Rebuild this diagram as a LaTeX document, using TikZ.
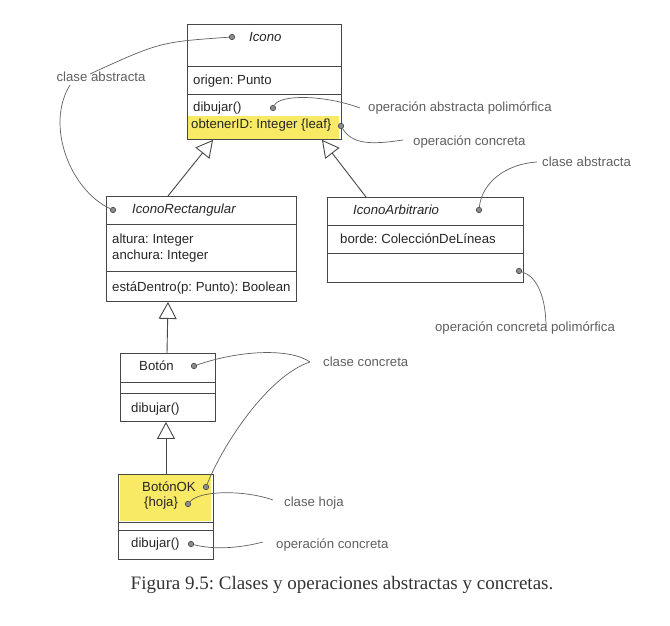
\documentclass[tikz,border=0pt]{standalone}
\usepackage{fontspec}
\setmainfont{Liberation Serif}
\setsansfont{Liberation Sans}
\usetikzlibrary{arrows.meta}
\definecolor{amarillo}{RGB}{248,234,100}
\definecolor{lineagris}{RGB}{70,70,70}
\definecolor{notagris}{RGB}{95,95,95}
\frenchspacing

\begin{document}
\begin{tikzpicture}[x=1pt,y=-1pt,
  texto/.style={anchor=west,inner sep=0pt,font=\sffamily\fontsize{13.2}{15}\selectfont,text=black!85},
  nombre/.style={texto,font=\sffamily\itshape\fontsize{13.2}{15}\selectfont},
  etiqueta/.style={texto,text=notagris},
  punto/.style={circle,draw=lineagris,fill=black!45,line width=0.6pt,inner sep=0pt,minimum size=5.5pt},
  caja/.style={draw=lineagris,line width=0.9pt,anchor=north west,inner sep=0pt},
  sep/.style={draw=lineagris,line width=0.9pt},
  nota/.style={draw=notagris,line width=0.7pt},
  hereda/.style={draw=lineagris,line width=0.9pt,-{Triangle[open,length=17pt,width=18pt]}}]
\useasboundingbox (0,0) rectangle (670,626);

\fill[amarillo] (187,116) rectangle (339,139);
\fill[amarillo] (120,474) rectangle (211,521);

\node [caja,minimum width=154pt,minimum height=115pt] (icono) at (187,24) {};
\draw [sep] (187,66) -- (341,66);
\draw [sep] (187,94) -- (341,94);
\node [nombre] (iconoNom) at (249,37) {Icono};
\node [texto] (origen) at (193,81) {origen: Punto};
\node [texto] (dibujar1) at (193,108) {dibujar()};
\node [texto] (obtener) at (191,125) {obtenerID: Integer \{leaf\}};

\node [caja,minimum width=190pt,minimum height=105pt] (icRect) at (106,196) {};
\draw [sep] (106,224) -- (296,224);
\draw [sep] (106,271) -- (296,271);
\node [nombre] (icRectNom) at (132,210) {IconoRectangular};
\node [texto] (altura) at (112,240) {altura: Integer};
\node [texto] (anchura) at (112,256) {anchura: Integer};
\node [texto] (dentro) at (112,288) {estáDentro(p: Punto): Boolean};

\node [caja,minimum width=196pt,minimum height=85pt] (icArb) at (327,197) {};
\draw [sep] (327,225) -- (523,225);
\draw [sep] (327,253) -- (523,253);
\node [nombre] (icArbNom) at (353,210) {IconoArbitrario};
\node [texto] (borde) at (340,239) {borde: ColecciónDeLíneas};

\node [caja,minimum width=95pt,minimum height=68pt] (boton) at (120,353) {};
\draw [sep] (120,382) -- (215,382);
\draw [sep] (120,393) -- (215,393);
\node [texto] (botonNom) at (139,366) {Botón};
\node [texto] (dibujar2) at (131,409) {dibujar()};

\node [caja,minimum width=95pt,minimum height=85pt] (botonOK) at (118,474) {};
\draw [sep] (118,522) -- (213,522);
\draw [sep] (118,530) -- (213,530);
\node [texto] (botonOKNom) at (142,487) {BotónOK};
\node [texto] (hoja) at (144,503) {\{hoja\}};
\node [texto] (dibujar3) at (131,544) {dibujar()};

\draw [hereda] ([xshift=62pt]icRect.north west) -- ([xshift=26pt]icono.south west);
\draw [hereda] ([xshift=39pt]icArb.north west) -- ([xshift=135pt]icono.south west);
\draw [hereda] ([xshift=47pt]boton.north west) -- ([xshift=62pt]icRect.south west);
\draw [hereda] ([xshift=48pt]botonOK.north west) -- ([xshift=46pt]boton.south west);

\node [punto] (pIcono) at (232,37) {};
\node [punto] (pDibujar1) at (273,108) {};
\node [punto] (pObtener) at (341,126) {};
\node [punto] (pIcRect) at (113,210) {};
\node [punto] (pIcArb) at (479,210) {};
\node [punto] (pIcArbOp) at (519,271) {};
\node [punto] (pBoton) at (194,366) {};
\node [punto] (pBotonOK) at (206,487) {};
\node [punto] (pHoja) at (188,504) {};
\node [punto] (pDibujar3) at (191,544) {};

\node [etiqueta,anchor=center] (claseAbs1) at (101,77) {clase abstracta};
\node [etiqueta] (opAbsPoli) at (368,108) {operación abstracta polimórfica};
\node [etiqueta] (opConc1) at (413,142) {operación concreta};
\node [etiqueta] (claseAbs2) at (542,162) {clase abstracta};
\node [etiqueta,anchor=center] (opConcPoli) at (525,328) {operación concreta polimórfica};
\node [etiqueta] (claseConc) at (323,362) {clase concreta};
\node [etiqueta] (claseHoja) at (284,503) {clase hoja};
\node [etiqueta] (opConc2) at (276,545) {operación concreta};
\coordinate (uneConc) at (310,362);

\draw [nota] (pIcono) .. controls (160,42) .. ([xshift=-11pt,yshift=-2pt]claseAbs1.north);
\draw [nota] ([xshift=-31pt,yshift=-3pt]claseAbs1.south) .. controls (45,125) and (70,190) .. (pIcRect);
\draw [nota] (pDibujar1) .. controls (280,94) and (325,95) .. ([xshift=-8pt]opAbsPoli.west);
\draw [nota] (pObtener) .. controls (352,144) and (370,145) .. ([xshift=-10pt,yshift=2pt]opConc1.west);
\draw [nota] (pIcArb) .. controls (482,183) and (505,164) .. ([xshift=-5pt]claseAbs2.west);
\draw [nota] (pIcArbOp) .. controls (536,276) and (546,295) .. ([xshift=21pt,yshift=-6pt]opConcPoli.north);
\draw [nota] (pBoton) .. controls (240,350) and (290,348) .. (uneConc);
\draw [nota] (uneConc) .. controls (270,375) and (225,440) .. (pBotonOK);
\draw [nota] (pHoja) .. controls (200,490) and (245,490) .. ([xshift=-11pt,yshift=3pt]claseHoja.west);
\draw [nota] (pDibujar3) .. controls (215,550) and (240,548) .. ([xshift=-13pt,yshift=3pt]opConc2.west);

\node [font=\fontsize{19}{22}\selectfont,text=black!80] (titulo) at (342,585) {Figura 9.5: Clases y operaciones abstractas y concretas.};
\end{tikzpicture}
\end{document}
